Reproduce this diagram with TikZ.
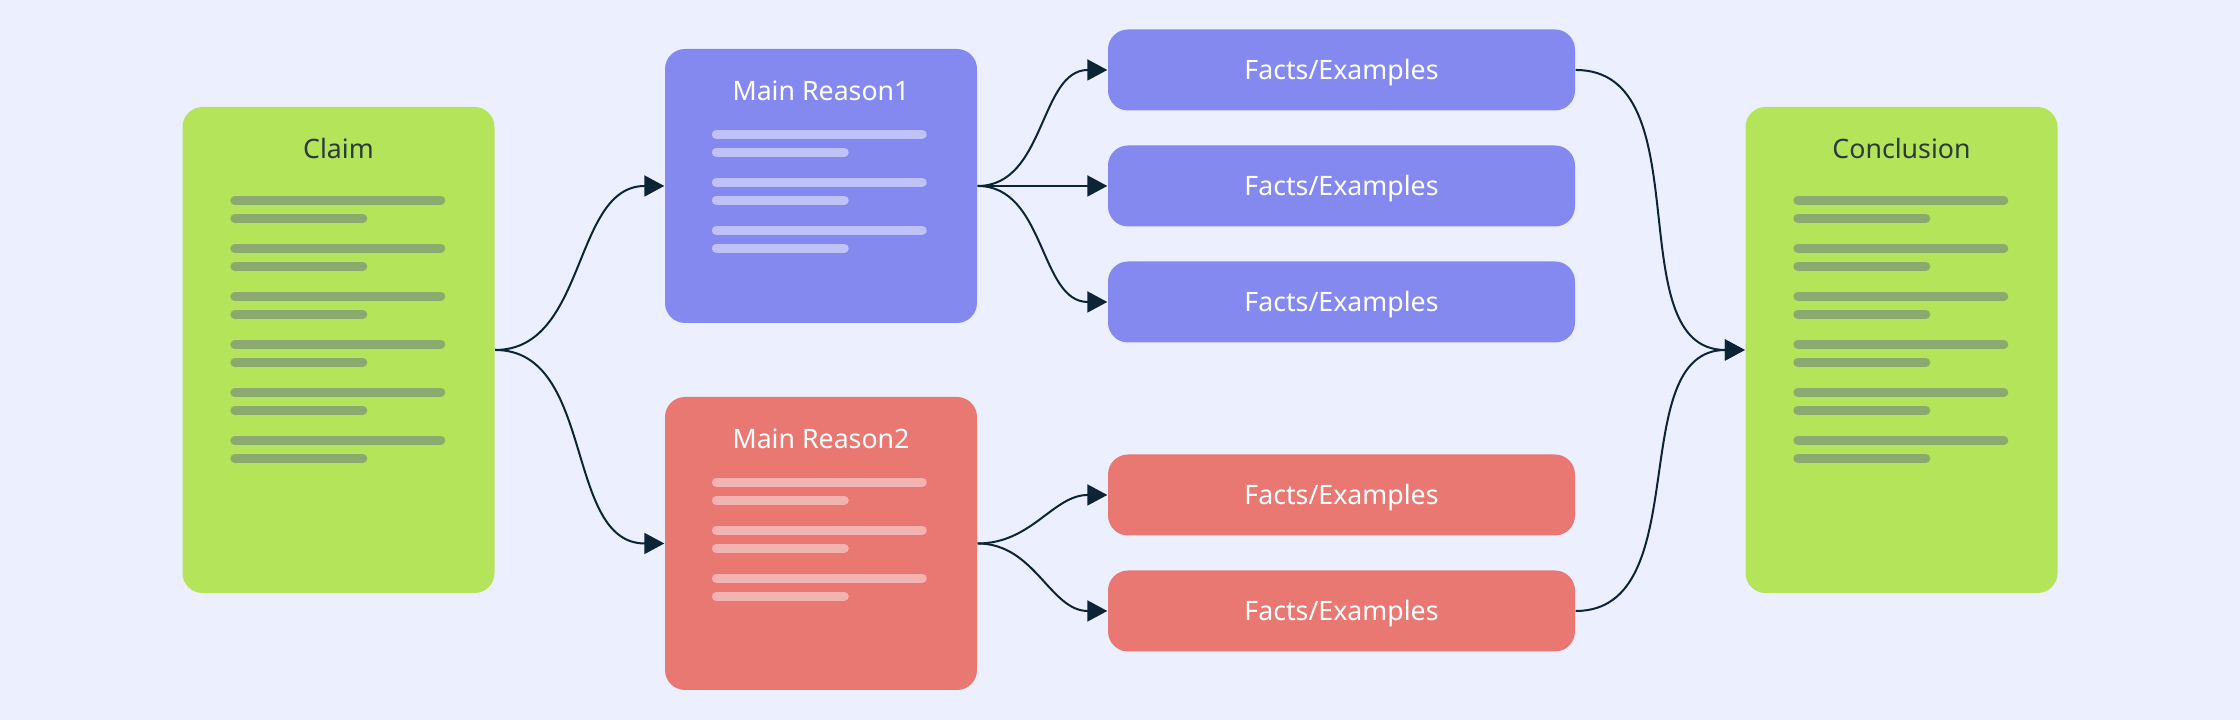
\documentclass[tikz,border=0pt]{standalone}
\usepackage{fontspec}
\setmainfont{Noto Sans}
\usetikzlibrary{arrows.meta}

\definecolor{bgc}{HTML}{ECEFFD}
\definecolor{greenc}{HTML}{B3E45A}
\definecolor{greenbar}{HTML}{8BAA70}
\definecolor{bluec}{HTML}{8489F0}
\definecolor{bluebar}{HTML}{BEC2F7}
\definecolor{redc}{HTML}{E97873}
\definecolor{redbar}{HTML}{F3B3B0}
\definecolor{linkc}{HTML}{0B2436}
\definecolor{darktext}{HTML}{2C3B3A}

\begin{document}
\begin{tikzpicture}[
  box/.style={rectangle, rounded corners=0.2cm, inner sep=0pt},
  bigbox/.style={box, minimum width=3.12cm, minimum height=4.86cm, fill=greenc},
  reasonbox/.style={box, minimum width=3.12cm},
  factbox/.style={box, minimum width=4.67cm, minimum height=0.81cm, text=white,
    text height=0.19cm, text depth=0pt, font=\fontsize{7.6}{9}\selectfont},
  title/.style={anchor=base, inner sep=0pt, font=\fontsize{7.6}{9}\selectfont},
  bar/.style={line width=0.09cm, line cap=round},
  link/.style={draw=linkc, line width=0.02cm, -{Triangle[length=0.2cm,width=0.21cm]}}]
\useasboundingbox[fill=bgc] (0,0) rectangle (22.4,7.2);
% claim and conclusion
\node[bigbox] (claim) at (3.385,3.70) {};
\node[bigbox] (concl) at (19.015,3.70) {};
\node[title, text=darktext] (claimtitle) at ([yshift=-0.52cm]claim.north) {Claim};
\node[title, text=darktext] (concltitle) at ([yshift=-0.52cm]concl.north) {Conclusion};
\foreach \b in {claim,concl}{
  \foreach \k in {0,...,5}{
    \draw[bar, greenbar] ([shift={(0.53,-0.94-0.48*\k)}]\b.north west) -- ++(2.06,0);
    \draw[bar, greenbar] ([shift={(0.53,-1.12-0.48*\k)}]\b.north west) -- ++(1.28,0);
  }
}
% main reasons
\node[reasonbox, fill=bluec, minimum height=2.74cm] (reason1) at (8.21,5.34) {};
\node[reasonbox, fill=redc, minimum height=2.93cm] (reason2) at (8.21,1.765) {};
\node[title, text=white] (r1title) at ([yshift=-0.52cm]reason1.north) {Main Reason1};
\node[title, text=white] (r2title) at ([yshift=-0.52cm]reason2.north) {Main Reason2};
\foreach \b/\c in {reason1/bluebar,reason2/redbar}{
  \foreach \k in {0,1,2}{
    \draw[bar, \c] ([shift={(0.52,-0.86-0.48*\k)}]\b.north west) -- ++(2.06,0);
    \draw[bar, \c] ([shift={(0.52,-1.04-0.48*\k)}]\b.north west) -- ++(1.28,0);
  }
}
% facts / examples
\node[factbox, fill=bluec] (fact1) at (13.415,6.50) {Facts/Examples};
\node[factbox, fill=bluec] (fact2) at (13.415,5.34) {Facts/Examples};
\node[factbox, fill=bluec] (fact3) at (13.415,4.18) {Facts/Examples};
\node[factbox, fill=redc] (fact4) at (13.415,2.25) {Facts/Examples};
\node[factbox, fill=redc] (fact5) at (13.415,1.09) {Facts/Examples};
% links
\draw[link] (claim.east) to[out=0,in=180] (reason1.west);
\draw[link] (claim.east) to[out=0,in=180] (reason2.west);
\foreach \f in {fact1,fact2,fact3}
  \draw[link] (reason1.east) to[out=0,in=180] (\f.west);
\foreach \f in {fact4,fact5}
  \draw[link] (reason2.east) to[out=0,in=180] (\f.west);
\draw[link] (fact1.east) to[out=0,in=180] (concl.west);
\draw[link] (fact5.east) to[out=0,in=180] (concl.west);
\end{tikzpicture}
\end{document}
